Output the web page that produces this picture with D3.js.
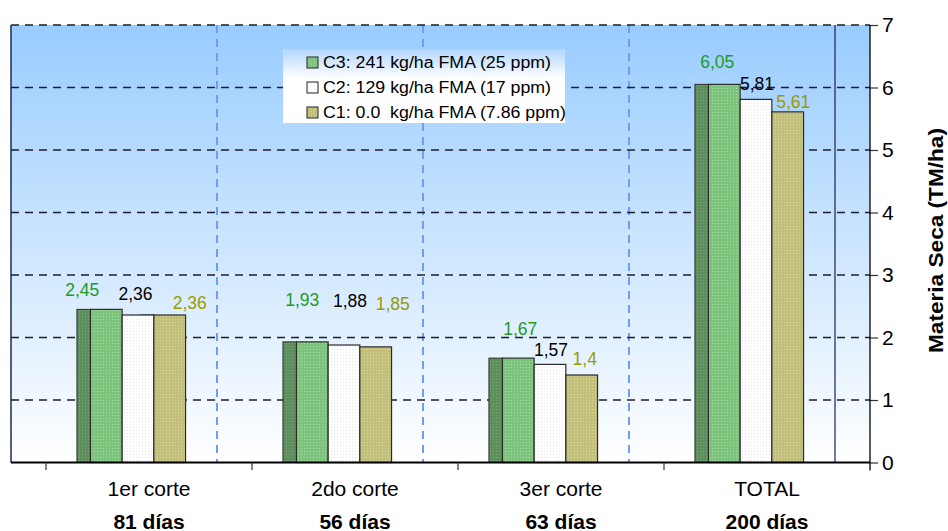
<!DOCTYPE html>
<html>
<head>
<meta charset="utf-8">
<script src="https://cdn.jsdelivr.net/npm/d3@7"></script>
<style>
  html, body { margin: 0; padding: 0; background: #ffffff; }
  svg { display: block; font-family: "Liberation Sans", Arial, sans-serif; }
  text { white-space: pre; }
</style>
</head>
<body>
<svg id="chart" width="948" height="531"></svg>
<script>
// Dry matter yield per cut and total, three fertilisation levels
const categories = ["1er corte", "2do corte", "3er corte", "TOTAL"];
const durations = ["81 días", "56 días", "63 días", "200 días"];
const seriesNames = [
  "C3: 241 kg/ha FMA (25 ppm)",
  "C2: 129 kg/ha FMA (17 ppm)",
  "C1: 0.0  kg/ha FMA (7.86 ppm)"
];
const c3Values = [2.45, 1.93, 1.67, 6.05];
const c2Values = [2.36, 1.88, 1.57, 5.81];
const c1Values = [2.36, 1.85, 1.4, 5.61];
const yTicks = [0, 1, 2, 3, 4, 5, 6, 7];
const yTitle = "Materia Seca (TM/ha)";

// Drawing layout
const depth = 35;                 // oblique shift between back wall and front axis
const frontLeft = 46, frontRight = 870;
const yTop = 25, yBottom = 462.5;
const barW = 31.7, sideW = 13.5, groupShift = -11;

// label nudges [dx, gap above bar] per series, per category
const labelNudge = [
  [[-24, 13], [-10, 36], [2, 23], [-7, 16]],
  [[-2.5, 15], [6, 38], [1, 8], [1, 9]],
  [[20, 6], [17, 37], [3, 10], [5.5, 4]]
];

const series = [
  { name: seriesNames[0], values: c3Values, front: "#7cc47c", dot: "#a6daa6", side: "#5d8f5d", sideDot: "#7ea67e", label: "#1f9a1f" },
  { name: seriesNames[1], values: c2Values, front: "#ffffff", dot: "#e6e6e6", side: "#cfcfcf", sideDot: "#e0e0e0", label: "#000000" },
  { name: seriesNames[2], values: c1Values, front: "#c1bf7a", dot: "#d9d7a6", side: "#949257", sideDot: "#aaa874", label: "#999900" }
];

const svg = d3.select("#chart");
const defs = svg.append("defs");

const bgGrad = defs.append("linearGradient").attr("id", "bgGrad")
  .attr("x1", 0).attr("y1", 0).attr("x2", 0).attr("y2", 1);
bgGrad.append("stop").attr("offset", "0%").attr("stop-color", "#99ccff");
bgGrad.append("stop").attr("offset", "100%").attr("stop-color", "#ffffff");

const legGrad = defs.append("linearGradient").attr("id", "legGrad")
  .attr("x1", 0).attr("y1", 0).attr("x2", 0).attr("y2", 1);
legGrad.append("stop").attr("offset", "0%").attr("stop-color", "#b3d6ff");
legGrad.append("stop").attr("offset", "40%").attr("stop-color", "#ffffff");
legGrad.append("stop").attr("offset", "100%").attr("stop-color", "#ffffff");

// dotted fills
function dotPattern(id, base, dot) {
  const p = defs.append("pattern").attr("id", id)
    .attr("patternUnits", "userSpaceOnUse").attr("width", 3).attr("height", 3);
  p.append("rect").attr("width", 3).attr("height", 3).attr("fill", base);
  p.append("rect").attr("x", 1).attr("y", 1).attr("width", 1).attr("height", 1).attr("fill", dot);
}
series.forEach((s, i) => {
  dotPattern("front" + i, s.front, s.dot);
  dotPattern("side" + i, s.side, s.sideDot);
});

// scales
const y = d3.scaleLinear().domain([0, 7]).range([yBottom, yTop]);
const xFront = d3.scaleBand().domain(categories).range([frontLeft, frontRight]);
const xBack = d3.scaleBand().domain(categories).range([frontLeft - depth, frontRight - depth]);

// wall background
svg.append("rect")
  .attr("x", xBack.range()[0]).attr("y", yTop)
  .attr("width", frontRight - xBack.range()[0]).attr("height", yBottom - yTop)
  .attr("fill", "url(#bgGrad)");

// vertical category separators on the back wall
svg.append("g").selectAll("line")
  .data(categories.slice(1))
  .join("line")
  .attr("x1", d => xBack(d)).attr("x2", d => xBack(d))
  .attr("y1", yTop).attr("y2", yBottom)
  .attr("stroke", "#6f9cf5").attr("stroke-width", 2)
  .attr("stroke-dasharray", "8,6");

// horizontal gridlines
svg.append("g").selectAll("line")
  .data(yTicks.filter(t => t > 0))
  .join("line")
  .attr("x1", xBack.range()[0]).attr("x2", frontRight)
  .attr("y1", d => y(d)).attr("y2", d => y(d))
  .attr("stroke", "#1e1e28").attr("stroke-width", 1.4)
  .attr("stroke-dasharray", "8,6");

// wall edges
svg.append("line")
  .attr("x1", xBack.range()[0]).attr("x2", xBack.range()[0])
  .attr("y1", yTop).attr("y2", yBottom)
  .attr("stroke", "#1c2a5a").attr("stroke-width", 1.5);
svg.append("line")
  .attr("x1", xBack.range()[1]).attr("x2", xBack.range()[1])
  .attr("y1", yTop).attr("y2", yBottom)
  .attr("stroke", "#1c2050").attr("stroke-width", 1.2);

// bars
function barX(cat, i) {
  const center = xFront(cat) + xFront.bandwidth() / 2 + groupShift;
  return center - 1.5 * barW + i * barW;
}
const barData = [];
series.forEach((s, i) => {
  categories.forEach((c, j) => barData.push({ s, i, c, j, v: s.values[j] }));
});

const gBars = svg.append("g");
// side faces first, fronts on top
gBars.selectAll("rect.side")
  .data(barData)
  .join("rect")
  .attr("class", "side")
  .attr("x", d => barX(d.c, d.i) - sideW)
  .attr("y", d => y(d.v))
  .attr("width", sideW)
  .attr("height", d => yBottom - y(d.v))
  .attr("fill", d => `url(#side${d.i})`)
  .attr("stroke", "#2b2b2b").attr("stroke-width", 1);
gBars.selectAll("rect.front")
  .data(barData)
  .join("rect")
  .attr("class", "front")
  .attr("x", d => barX(d.c, d.i))
  .attr("y", d => y(d.v))
  .attr("width", barW)
  .attr("height", d => yBottom - y(d.v))
  .attr("fill", d => `url(#front${d.i})`)
  .attr("stroke", "#2b2b2b").attr("stroke-width", 1.2);

// value labels
svg.append("g").selectAll("text")
  .data(barData)
  .join("text")
  .attr("x", d => barX(d.c, d.i) + barW / 2 + labelNudge[d.i][d.j][0])
  .attr("y", d => y(d.v) - labelNudge[d.i][d.j][1])
  .attr("text-anchor", "middle")
  .attr("font-size", "17.5px")
  .attr("fill", d => d.s.label)
  .text(d => String(d.v).replace(".", ","));

// bottom axis line and ticks
svg.append("line")
  .attr("x1", xBack.range()[0]).attr("x2", frontRight)
  .attr("y1", yBottom).attr("y2", yBottom)
  .attr("stroke", "#000").attr("stroke-width", 2);
svg.append("g").selectAll("line")
  .data(categories)
  .join("line")
  .attr("x1", d => xFront(d)).attr("x2", d => xFront(d))
  .attr("y1", yBottom).attr("y2", yBottom + 7.5)
  .attr("stroke", "#333").attr("stroke-width", 1.2);

// category labels
const xAxis = svg.append("g")
  .attr("transform", `translate(0,${yBottom})`)
  .call(d3.axisBottom(xFront).tickSize(0).tickPadding(0));
xAxis.select(".domain").remove();
xAxis.selectAll("text")
  .attr("y", 496 - yBottom).attr("dy", null)
  .attr("font-family", "Liberation Sans, Arial, sans-serif")
  .attr("font-size", "21px").attr("fill", "#000");
svg.append("g").selectAll("text")
  .data(durations)
  .join("text")
  .attr("x", (d, j) => xFront(categories[j]) + xFront.bandwidth() / 2)
  .attr("y", 528.5)
  .attr("text-anchor", "middle")
  .attr("font-size", "21px").attr("font-weight", "bold")
  .text(d => d);

// right value axis
const yAxis = svg.append("g")
  .attr("transform", `translate(${frontRight},0)`)
  .call(d3.axisRight(y).tickValues(yTicks).tickFormat(d3.format("d"))
    .tickSize(8).tickSizeOuter(0).tickPadding(4));
yAxis.select(".domain").remove();
yAxis.selectAll(".tick line").attr("stroke", "#333").attr("stroke-width", 1.2);
yAxis.selectAll("text")
  .attr("font-family", "Liberation Sans, Arial, sans-serif")
  .attr("font-size", "21px").attr("fill", "#000");
svg.append("line")
  .attr("x1", frontRight).attr("x2", frontRight)
  .attr("y1", yTop).attr("y2", yBottom + 8)
  .attr("stroke", "#000").attr("stroke-width", 1.3);

// axis title
svg.append("text")
  .attr("transform", `translate(943,240.5) rotate(-90)`)
  .attr("text-anchor", "middle")
  .attr("font-size", "19.5px").attr("font-weight", "bold")
  .attr("textLength", 225).attr("lengthAdjust", "spacingAndGlyphs")
  .text(yTitle);

// legend
const legend = svg.append("g");
legend.append("rect")
  .attr("x", 283).attr("y", 49).attr("width", 282).attr("height", 74)
  .attr("fill", "url(#legGrad)");
const legRows = legend.selectAll("g.row")
  .data(series)
  .join("g")
  .attr("class", "row")
  .attr("transform", (d, i) => `translate(307,${62.5 + i * 25})`);
legRows.append("rect")
  .attr("x", 0).attr("y", -5.5).attr("width", 11).attr("height", 11)
  .attr("fill", (d, i) => `url(#front${i})`)
  .attr("stroke", "#222").attr("stroke-width", 1);
const legTexts = legRows.append("text")
  .attr("x", 16).attr("y", 0).attr("dy", "0.36em")
  .attr("font-size", "16px").attr("fill", "#000")
  .text(d => d.name);
// Excel-style wide rendering: stretch every entry by the same factor
const stretch = 228 / legTexts.node().getComputedTextLength();
legTexts.each(function () {
  const w = this.getComputedTextLength();
  d3.select(this).attr("textLength", w * stretch).attr("lengthAdjust", "spacingAndGlyphs");
});
</script>
</body>
</html>
